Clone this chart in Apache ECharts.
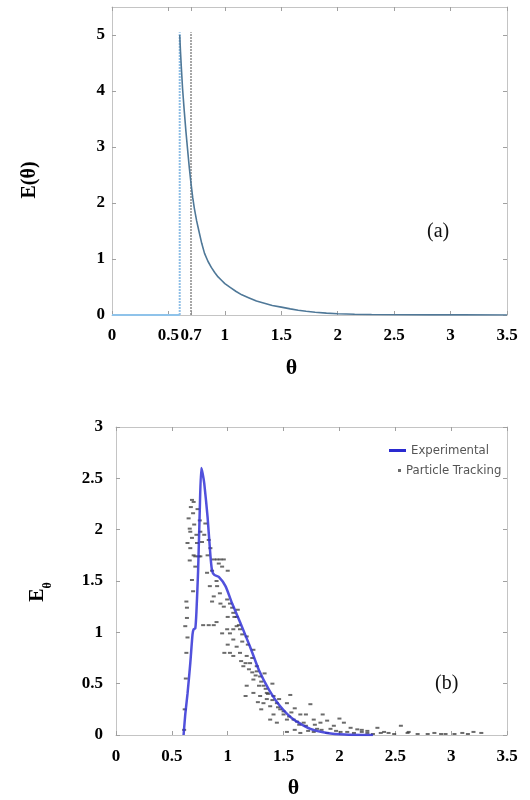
<!DOCTYPE html>
<html>
<head>
<meta charset="utf-8">
<script src="https://cdn.jsdelivr.net/npm/echarts@6/dist/echarts.min.js"></script>
<style>
html,body{margin:0;padding:0;background:#fff;}
#chart{width:530px;height:800px;}
</style>
</head>
<body>
<div id="chart"></div>
<script>
// ---------- (a) model curve ----------
const aZeroTheta = [0, 0.6];
const aZeroE = [0, 0];
const aCurveTheta = [0.6, 0.607, 0.615, 0.625, 0.64, 0.655, 0.67, 0.685, 0.70, 0.715, 0.73, 0.75, 0.77, 0.795, 0.82, 0.85, 0.88, 0.91, 0.94, 0.97, 1.0, 1.05, 1.1, 1.15, 1.21, 1.28, 1.35, 1.42, 1.5, 1.58, 1.65, 1.72, 1.8, 1.9, 2.0, 2.15, 2.3, 2.55, 2.8, 3.1, 3.5];
const aCurveE     = [5.0, 4.7, 4.4, 4.05, 3.65, 3.28, 2.95, 2.63, 2.35, 2.1, 1.9, 1.68, 1.5, 1.28, 1.1, 0.96, 0.85, 0.76, 0.68, 0.62, 0.56, 0.49, 0.42, 0.36, 0.31, 0.25, 0.21, 0.17, 0.14, 0.11, 0.085, 0.068, 0.05, 0.034, 0.022, 0.013, 0.008, 0.005, 0.003, 0.002, 0.001];
const aLineStart = [0.6, 0];      // theta, E
const aLineStartTop = [0.6, 5.05];
const aLine07 = [0.7, 0];
const aLine07Top = [0.7, 5.05];
const aXTicks = [0, 0.5, 0.7, 1, 1.5, 2, 2.5, 3, 3.5];
const aYTicks = [0, 1, 2, 3, 4, 5];

// ---------- (b) experimental + particle tracking ----------
const bExpTheta = [0.605, 0.62, 0.64, 0.665, 0.685, 0.695, 0.71, 0.72, 0.735, 0.75, 0.763, 0.775, 0.79, 0.82, 0.845, 0.86, 0.88, 0.92, 0.98, 1.04, 1.11, 1.2, 1.28, 1.37, 1.47, 1.59, 1.74, 1.89, 2.05, 2.3];
const bExpE     = [0, 0.2, 0.4, 0.7, 0.98, 1.03, 1.04, 1.2, 1.6, 2.2, 2.6, 2.55, 2.45, 2.12, 1.75, 1.6, 1.56, 1.54, 1.45, 1.28, 1.1, 0.86, 0.63, 0.44, 0.28, 0.15, 0.06, 0.02, 0.005, 0];
const bPtTheta = [
 0.68,0.695,0.67,0.65,0.66,0.64,0.665,0.68,0.69,0.665,0.695,0.71,0.74,0.755,0.71,0.68,0.63,0.635,0.62,0.635,0.75,0.755,0.725,0.77,0.79,0.80,0.83,0.845,
 0.875,0.905,0.935,0.965,0.92,0.95,0.815,0.84,0.875,0.905,0.935,0.965,0.995,1.02,1.04,1.05,1.09,
 0.78,0.83,0.875,0.95,0.995,1.02,1.05,1.08,1.11,1.17,1.05,1.08,1.13,
 1.02,1.05,1.11,1.17,1.23,1.14,1.19,1.22,1.26,1.29,1.23,1.17,1.28,1.32,
 1.35,1.23,1.29,1.16,1.35,1.41,1.38,1.32,1.44,1.53,1.56,1.47,1.50,1.41,1.38,1.44,1.53,1.59,1.65,1.74,1.68,1.77,1.83,1.89,1.95,2.04,2.10,2.16,2.25,2.34,2.55,
 1.53,1.65,1.77,1.89,2.01,2.13,2.25,2.37,2.49,2.61,2.79,2.91,3.03,3.15,3.27,
 1.60,1.72,1.84,1.97,2.07,2.2,2.3,2.44,2.7,2.95,
 0.61,0.615,0.625,0.63,0.64,
 1.06,1.1,1.13,1.18,1.22,1.26,1.3,1.34,1.4,1.45,1.5,1.55,1.62,1.7,1.8,
 0.97,1.0,1.12,1.2,1.33,1.4,1.27,1.3,1.6,1.7,1.85,2.0,0.9,0.86,0.93,1.0,
 0.7,0.72,0.66,0.73,0.69,0.82,0.86,0.9,1.0,1.08,1.16,1.25,1.36,1.46,1.57,1.64,1.78,1.92,2.2,2.4,2.62,2.85,3.1,3.2
];
const bPtE = [
 2.29,2.27,2.22,2.11,2.01,1.87,1.82,1.92,2.16,1.98,1.75,1.74,1.74,1.74,1.64,1.51,1.30,1.24,1.06,1.14,2.09,1.98,1.87,1.88,1.95,2.06,1.9,1.82,
 1.71,1.71,1.71,1.71,1.67,1.64,1.58,1.45,1.35,1.45,1.28,1.25,1.32,1.28,1.24,1.19,1.22,
 1.07,1.07,1.07,0.99,1.03,0.99,1.03,1.06,1.03,0.96,0.93,0.86,0.91,
 0.80,0.77,0.80,0.77,0.83,0.67,0.64,0.61,0.67,0.57,0.54,0.48,0.48,0.48,
 0.41,0.41,0.38,0.38,0.35,0.38,0.28,0.31,0.31,0.31,0.39,0.25,0.20,0.20,0.15,0.12,0.15,0.15,0.20,0.30,0.12,0.15,0.12,0.14,0.09,0.12,0.07,0.055,0.04,0.07,0.09,
 0.03,0.02,0.03,0.02,0.03,0.02,0.02,0.02,0.01,0.02,0.01,0.01,0.01,0.01,0.02,
 0.05,0.04,0.05,0.04,0.03,0.03,0.01,0.02,0.01,0.01,
 0.05,0.25,0.55,0.8,0.95,
 1.15,1.07,0.98,0.88,0.75,0.62,0.52,0.45,0.34,0.27,0.23,0.18,0.13,0.09,0.06,
 0.8,0.88,0.72,0.7,0.6,0.5,0.32,0.25,0.26,0.2,0.2,0.16,1.1,1.3,1.38,1.15,
 2.05,1.95,1.7,2.2,1.4,1.75,1.6,1.5,1.6,1.15,0.7,0.58,0.4,0.35,0.22,0.1,0.1,0.06,0.05,0.03,0.03,0.02,0.02,0.03
];
const bXTicks = [0, 0.5, 1, 1.5, 2, 2.5, 3, 3.5];
const bYTicks = [0, 0.5, 1, 1.5, 2, 2.5, 3];

const zip = (xs, ys) => xs.map((x, i) => [x, ys[i]]);

const serif = "'Liberation Serif', 'Times New Roman', serif";
const narrow = "'Liberation Sans Narrow', 'DejaVu Sans Condensed', 'Liberation Sans', sans-serif";
const labelStyle = {fontFamily: serif, fontWeight: 'bold', fontSize: 17, color: '#000'};
const lineCol = '#c4c4c4';
const tickStyle = {inside: true, length: 4, lineStyle: {color: '#a0a0a0'}};

function mainX(grid, ticks, margin) {
  return {
    type: 'value', gridIndex: grid, min: 0, max: 3.5, position: 'bottom',
    name: 'θ', nameLocation: 'middle', nameGap: 42,
    nameTextStyle: {fontFamily: serif, fontWeight: 'bold', fontSize: 22, color: '#000', padding: [0, 36, 0, 0]},
    axisLine: {onZero: false, lineStyle: {color: lineCol}},
    axisTick: Object.assign({customValues: ticks}, tickStyle),
    axisLabel: Object.assign({customValues: ticks, margin: margin}, labelStyle),
    splitLine: {show: false}
  };
}
function mirrorX(grid, ticks) {
  return {
    type: 'value', gridIndex: grid, min: 0, max: 3.5, position: 'top',
    axisLine: {onZero: false, lineStyle: {color: lineCol}},
    axisTick: Object.assign({customValues: ticks}, tickStyle),
    axisLabel: {show: false}, splitLine: {show: false}
  };
}
function mainY(grid, max, ticks, name, gap, margin, pad) {
  return {
    type: 'value', gridIndex: grid, min: 0, max: max, position: 'left',
    name: name, nameLocation: 'middle', nameGap: gap, nameRotate: 90,
    nameTextStyle: {fontFamily: serif, fontWeight: 'bold', fontSize: 20, color: '#000', padding: pad,
      rich: {
        e: {fontFamily: serif, fontWeight: 'bold', fontSize: 20, color: '#000'},
        s: {fontFamily: serif, fontWeight: 'bold', fontSize: 12, color: '#000', verticalAlign: 'bottom', padding: [0, 0, -6, 0]}
      }},
    axisLine: {onZero: false, lineStyle: {color: lineCol}},
    axisTick: Object.assign({customValues: ticks}, tickStyle),
    axisLabel: Object.assign({customValues: ticks, margin: margin}, labelStyle),
    splitLine: {show: false}
  };
}
function mirrorY(grid, max, ticks) {
  return {
    type: 'value', gridIndex: grid, min: 0, max: max, position: 'right',
    axisLine: {onZero: false, lineStyle: {color: lineCol}},
    axisTick: Object.assign({customValues: ticks}, tickStyle),
    axisLabel: {show: false}, splitLine: {show: false}
  };
}

const chart = echarts.init(document.getElementById('chart'), null, {renderer: 'canvas'});
chart.setOption({
  backgroundColor: '#fff',
  animation: false,
  grid: [
    {left: 112, right: 23, top: 7, bottom: 485},
    {left: 116, right: 23, top: 427, bottom: 64}
  ],
  xAxis: [mainX(0, aXTicks, 12), mirrorX(0, aXTicks), mainX(1, bXTicks, 13), mirrorX(1, bXTicks)],
  yAxis: [
    mainY(0, 5.5, aYTicks, 'E(θ)', 72, 7, [0, 38, 0, 0]),
    mirrorY(0, 5.5, aYTicks),
    mainY(1, 3, bYTicks, '{e|E}{s|θ}', 68, 13, [0, 22, 0, 0]),
    mirrorY(1, 3, bYTicks)
  ],
  legend: [
    {
      data: [{name: 'Experimental', icon: 'rect'}], orient: 'vertical', left: 384, top: 439,
      itemWidth: 17, itemHeight: 3,
      itemStyle: {color: '#2a2ad0'},
      textStyle: {fontFamily: narrow, fontSize: 13, color: '#555'}
    },
    {
      data: [{name: 'Particle Tracking', icon: 'rect'}], orient: 'vertical', left: 393, top: 459,
      itemWidth: 3, itemHeight: 3,
      textStyle: {fontFamily: narrow, fontSize: 13, color: '#555'}
    }
  ],
  graphic: [
    {type: 'text', left: 427, top: 222, style: {text: '(a)', fontFamily: serif, fontSize: 20, fill: '#111'}},
    {type: 'text', left: 435, top: 674, style: {text: '(b)', fontFamily: serif, fontSize: 20, fill: '#111'}}
  ],
  series: [
    {
      name: 'zero', type: 'line', xAxisIndex: 0, yAxisIndex: 0, data: zip(aZeroTheta, aZeroE),
      symbol: 'none', lineStyle: {color: '#8fc3ea', width: 2}, silent: true
    },
    {
      name: 'jump', type: 'line', xAxisIndex: 0, yAxisIndex: 0, data: [aLineStart, aLineStartTop],
      symbol: 'none', lineStyle: {color: '#8fbfe6', width: 2, type: [2, 1]}, silent: true
    },
    {
      name: 'line07', type: 'line', xAxisIndex: 0, yAxisIndex: 0, data: [aLine07, aLine07Top],
      symbol: 'none', lineStyle: {color: '#8a8a8a', width: 1.5, type: [2, 1]}, silent: true
    },
    {
      name: 'model', type: 'line', xAxisIndex: 0, yAxisIndex: 0, data: zip(aCurveTheta, aCurveE),
      symbol: 'none', smooth: false, lineStyle: {color: '#4f7898', width: 1.6}, silent: true
    },
    {
      name: 'Particle Tracking', type: 'scatter', xAxisIndex: 2, yAxisIndex: 2, data: zip(bPtTheta, bPtE),
      symbol: 'rect', symbolSize: [4, 2], itemStyle: {color: '#3a3a3a', opacity: 0.75}, silent: true
    },
    {
      name: 'Experimental', type: 'line', xAxisIndex: 2, yAxisIndex: 2, data: zip(bExpTheta, bExpE),
      symbol: 'none', smooth: 0.2, lineStyle: {color: '#3333d6', width: 2.5, opacity: 0.85},
      itemStyle: {color: '#2a2ad0'}, silent: true
    }
  ]
});
</script>
</body>
</html>
